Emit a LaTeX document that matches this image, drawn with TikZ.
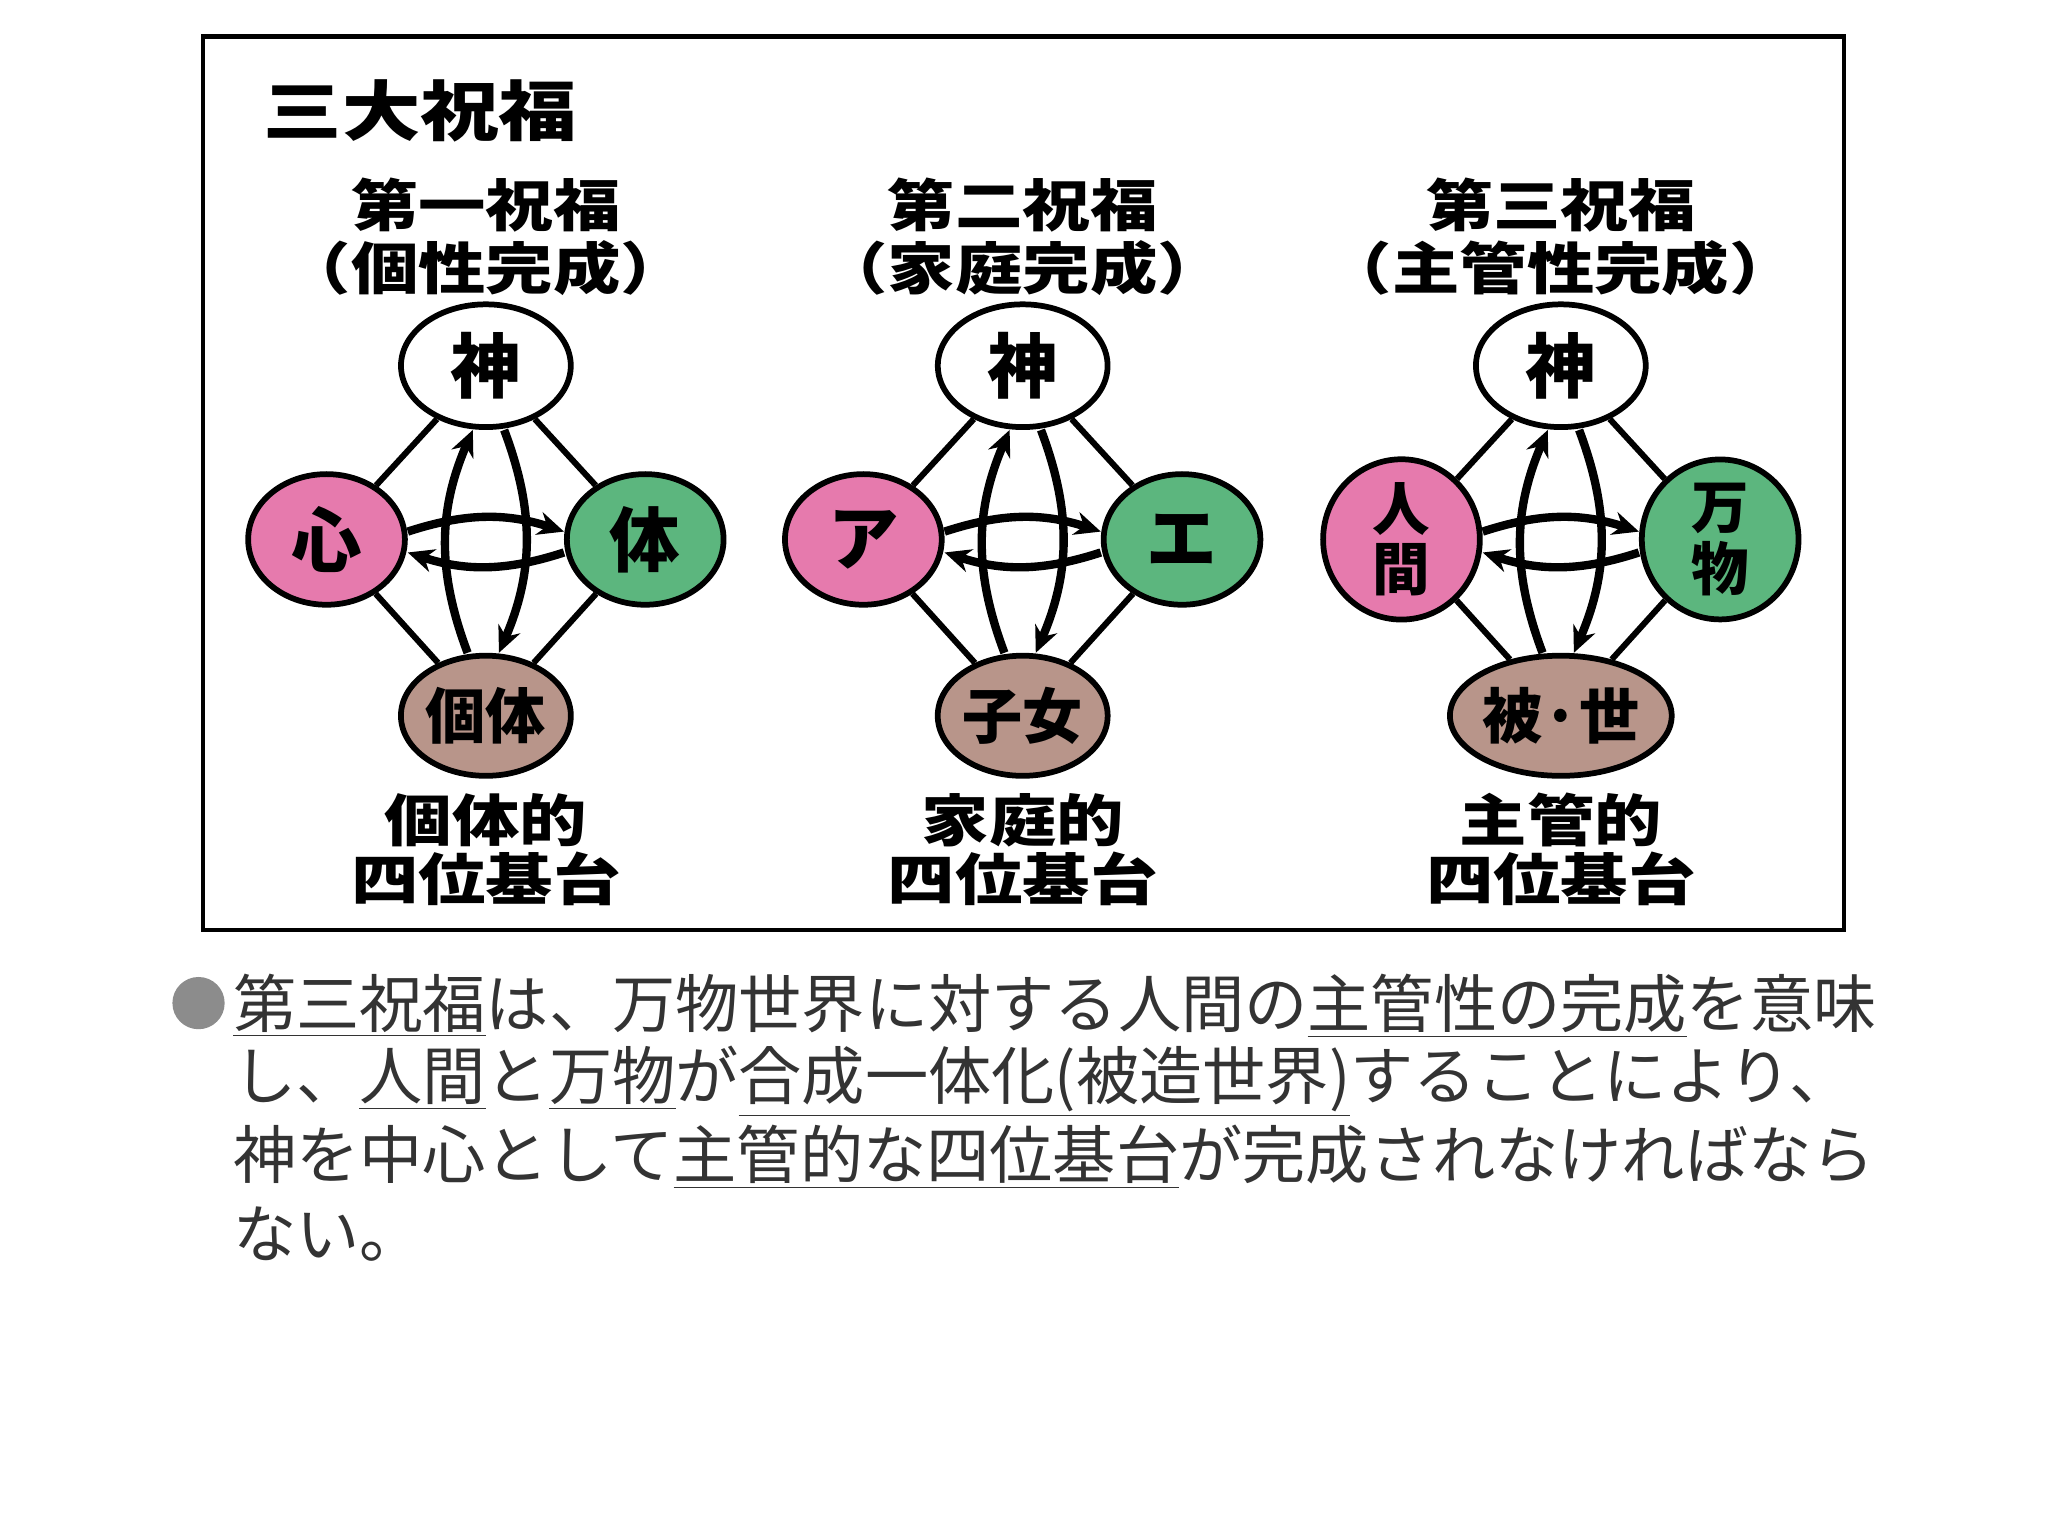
\documentclass[tikz,border=0pt]{standalone}
\usepackage{fontspec}
\setmainfont{Noto Sans CJK JP}
\newfontfamily\widefont{Noto Sans CJK JP}[FakeStretch=1.2]
\usetikzlibrary{shapes.geometric,arrows.meta}
\definecolor{pinkc}{HTML}{E67AAD}
\definecolor{greenc}{HTML}{5CB67E}
\definecolor{brownc}{HTML}{B8958A}
\tikzset{
 ell/.style={ellipse,draw=black,line width=2.2pt,inner sep=0pt,font=\bfseries\fontsize{27}{27}\selectfont},
 godn/.style={ell,fill=white,minimum width=65pt,minimum height=47pt},
 sidep/.style={ell,fill=pinkc,minimum width=60pt,minimum height=50pt},
 sideg/.style={ell,fill=greenc,minimum width=60pt,minimum height=50pt},
 botn/.style={ell,fill=brownc,minimum width=62pt,minimum height=46pt,font=\bfseries\fontsize{23}{23}\selectfont},
 conn/.style={line width=2.3pt},
 arr/.style={-{Stealth[length=10pt,width=9pt]}},
 head/.style={inner sep=1pt,font=\widefont\bfseries\fontsize{21.5}{21.5}\selectfont},
 body/.style={anchor=west,inner sep=0pt,font=\fontsize{24.2}{24.2}\selectfont,text=black!80},
}
\newcommand\blessing[9]{%
 \node[head] (#1h1) at (#2,157) {#3};
 \node[head] (#1h2) at (#2,205) {#4};
 \node[godn] (#1g) at (#2,280) {神};
 \node[sidep] (#1l) at (#2-122,413) {#5};
 \node[sideg] (#1r) at (#2+122,413) {#6};
 \node[botn] (#1b) at (#2,548) {#7};
 \draw[conn] (#1g) -- (#1l); \draw[conn] (#1g) -- (#1r);
 \draw[conn] (#1b) -- (#1l); \draw[conn] (#1b) -- (#1r);
 \draw[arr,line width=3.2pt] ([xshift=-7pt]#1b.north) to[bend left=22] ([xshift=-5pt]#1g.south);
 \draw[arr,line width=3.2pt] ([xshift=7pt]#1g.south) to[bend left=22] ([xshift=5pt]#1b.north);
 \draw[arr,line width=3.2pt] ([yshift=3pt]#1l.east) to[bend left=18] ([yshift=3pt]#1r.west);
 \draw[arr,line width=3.2pt] ([yshift=-5pt]#1r.west) to[bend left=18] ([yshift=-5pt]#1l.east);
 \node[head] (#1f1) at (#2,628) {#8};
 \node[head] (#1f2) at (#2,673) {#9};
}
\begin{document}
\begin{tikzpicture}[x=0.5pt,y=-0.5pt]
\path[fill=white,use as bounding box] (0,0) rectangle (1568,1176);
\node[draw=black,line width=1.6pt,minimum width=628pt,minimum height=342pt,inner sep=0pt] (frame) at (783.5,370) {};
\node[font=\widefont\bfseries\fontsize{25}{25}\selectfont] (title) at (322,85) {三大祝福};
\blessing{a}{372}{第一祝福}{（個性完成）}{心}{体}{個体}{個体的}{四位基台}
\blessing{b}{783}{第二祝福}{（家庭完成）}{ア}{エ}{子女}{家庭的}{四位基台}
\blessing{c}{1195}{第三祝福}{（主管性完成）}{\fontsize{22}{21}\selectfont\shortstack{人\\間}}{\fontsize{22}{21}\selectfont\shortstack{万\\物}}{被·世}{主管的}{四位基台}
\node[circle,fill=black!45,minimum size=20pt,inner sep=0pt] (bullet) at (152,768) {};
\node[body] (l1) at (178,770) {\underline{第三祝福}は、万物世界に対する人間の\underline{主管性の完成}を意味};
\node[body] (l2) at (178,828) {し、\underline{人間}と\underline{万物}が\underline{合成一体化(被造世界)}することにより、};
\node[body] (l3) at (178,886) {神を中心として\underline{主管的な四位基台}が完成されなければなら};
\node[body] (l4) at (178,945) {ない。};
\end{tikzpicture}
\end{document}
